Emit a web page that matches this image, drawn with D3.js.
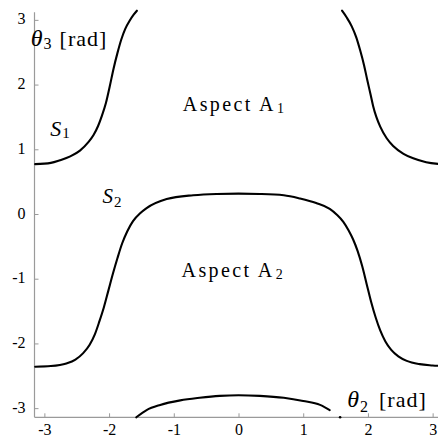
<!DOCTYPE html>
<html>
<head>
<meta charset="utf-8">
<script src="https://cdn.jsdelivr.net/npm/d3@7"></script>
<style>
  html, body { margin: 0; padding: 0; background: #fff; }
  svg { display: block; }
  text { font-family: "Liberation Serif", "Times New Roman", serif; fill: #000; }
</style>
</head>
<body>
<svg id="chart" width="438" height="441"></svg>
<script>
const PI = Math.PI;

// Tick values
const xTicks = [-3, -2, -1, 0, 1, 2, 3];
const yTicks = [-3, -2, -1, 0, 1, 2, 3];

// Singularity curve S1, left branch  [theta2, theta3]
const s1Left = [
  [-PI, 0.77], [-2.9, 0.79], [-2.76, 0.83], [-2.6, 0.89], [-2.45, 0.98],
  [-2.32, 1.11], [-2.24, 1.22], [-2.17, 1.36], [-2.11, 1.52], [-2.05, 1.71],
  [-1.99, 1.97], [-1.93, 2.25], [-1.87, 2.49], [-1.81, 2.70], [-1.75, 2.86],
  [-1.68, 2.99], [-1.62, 3.08], [-1.57, PI]
];
// Singularity curve S1, right branch
const s1Right = [
  [1.60, PI], [1.67, 3.04], [1.75, 2.90], [1.82, 2.73], [1.88, 2.53],
  [1.94, 2.30], [1.99, 2.07], [2.04, 1.85], [2.08, 1.67], [2.13, 1.50],
  [2.19, 1.35], [2.29, 1.17], [2.39, 1.05], [2.55, 0.93], [2.70, 0.86],
  [2.9, 0.80], [PI, 0.77]
];
// Singularity curve S1, wrapped part near theta3 = -pi
const s1Bottom = [
  [-1.58, -PI], [-1.42, -3.03], [-1.21, -2.95], [-0.9, -2.88], [-0.6, -2.84],
  [-0.29, -2.81], [0.0, -2.80], [0.33, -2.81], [0.7, -2.84], [1.0, -2.89],
  [1.26, -2.95], [1.41, -3.03]
];
const s1BottomDot = [[1.57, -PI]];
// Singularity curve S2
const s2 = [
  [-PI, -2.36], [-2.9, -2.35], [-2.66, -2.31], [-2.52, -2.25], [-2.40, -2.15],
  [-2.30, -2.02], [-2.22, -1.86], [-2.15, -1.66], [-2.08, -1.44], [-2.01, -1.18],
  [-1.94, -0.92], [-1.87, -0.68], [-1.80, -0.46], [-1.72, -0.27], [-1.63, -0.11],
  [-1.52, 0.01], [-1.42, 0.09], [-1.11, 0.23], [-0.70, 0.29], [-0.34, 0.31],
  [0.0, 0.315], [0.33, 0.31], [0.70, 0.29], [0.95, 0.24], [1.20, 0.17],
  [1.41, 0.08], [1.52, -0.01], [1.62, -0.12], [1.70, -0.25], [1.77, -0.39],
  [1.84, -0.57], [1.91, -0.80], [1.98, -1.08], [2.05, -1.36], [2.12, -1.60],
  [2.19, -1.80], [2.27, -1.97], [2.36, -2.10], [2.47, -2.20], [2.60, -2.27],
  [2.8, -2.32], [3.0, -2.34], [PI, -2.35]
];

const svg = d3.select("#chart");
const x = d3.scaleLinear().domain([-PI, PI]).range([35.2, 441.8]);
const y = d3.scaleLinear().domain([-PI, PI]).range([417.3, 10.7]);

const axisColor = "#9a9a9a";

// X axis
const gx = svg.append("g").attr("transform", `translate(0,${y(-PI)})`)
  .call(d3.axisBottom(x).tickValues(xTicks).tickFormat(d => String(d))
    .tickSizeInner(-4).tickSizeOuter(0).tickPadding(6));
gx.select(".domain").remove();
gx.append("line").attr("x1", x(-PI) - 0.7).attr("x2", 438).attr("y1", 0).attr("y2", 0)
  .attr("stroke", axisColor).attr("stroke-width", 1.2);
gx.selectAll(".tick line").attr("stroke", axisColor);
gx.selectAll(".tick text").attr("font-size", 16).attr("fill", "#000")
  .attr("font-family", "Liberation Serif, Times New Roman, serif");

// Y axis
const gy = svg.append("g").attr("transform", `translate(${x(-PI) - 0.7},0)`)
  .call(d3.axisLeft(y).tickValues(yTicks).tickFormat(d => String(d))
    .tickSizeInner(-4).tickSizeOuter(0).tickPadding(9));
gy.select(".domain").remove();
gy.append("line").attr("x1", 0).attr("x2", 0).attr("y1", y(PI) + 1.5).attr("y2", y(-PI))
  .attr("stroke", axisColor).attr("stroke-width", 1.2);
gy.selectAll(".tick line").attr("stroke", axisColor);
gy.selectAll(".tick text").attr("font-size", 16).attr("fill", "#000").attr("dy", "0.25em")
  .attr("font-family", "Liberation Serif, Times New Roman, serif");

// Curves
const line = d3.line().x(d => x(d[0])).y(d => y(d[1])).curve(d3.curveMonotoneX);
[s1Left, s1Right, s1Bottom, s2].forEach(c => {
  svg.append("path").datum(c).attr("d", line)
    .attr("fill", "none").attr("stroke", "#000").attr("stroke-width", 2.1)
    .attr("stroke-linecap", "round");
});
svg.selectAll("circle.dot").data(s1BottomDot).join("circle").attr("class", "dot")
  .attr("cx", d => x(d[0])).attr("cy", d => y(d[1])).attr("r", 1.3).attr("fill", "#000");

// Annotations (positions in data coordinates)
function sub(g, px, py, main, subTxt, opts) {
  const t = g.append("text").attr("x", px).attr("y", py);
  t.append("tspan").text(main).attr("font-size", opts.size)
    .attr("font-style", opts.italic ? "italic" : "normal")
    .attr("letter-spacing", opts.ls || 0);
  t.append("tspan").text(subTxt).attr("font-size", opts.subSize).attr("dy", opts.subDy)
    .attr("dx", opts.subDx || 0);
  if (opts.after) {
    t.append("tspan").text(opts.after).attr("font-size", opts.afterSize)
      .attr("dy", -opts.subDy).attr("dx", opts.afterDx || 0).attr("letter-spacing", 1);
  }
  return t;
}

sub(svg, x(-3.21), y(2.6), "θ", "3", {size: 24, italic: true, subSize: 16, subDy: 3, subDx: 1, after: "[rad]", afterSize: 22, afterDx: 8});
sub(svg, x(1.68), y(-2.98), "θ", "2", {size: 24, italic: true, subSize: 16, subDy: 5, subDx: 1, after: "[rad]", afterSize: 22, afterDx: 11});
sub(svg, x(-2.91), y(1.21), "S", "1", {size: 22, italic: true, subSize: 15, subDy: 2, subDx: 1});
sub(svg, x(-2.1), y(0.17), "S", "2", {size: 21, italic: true, subSize: 15, subDy: 4, subDx: 1});
sub(svg, x(-0.86), y(1.59), "Aspect A", "1", {size: 20, italic: false, ls: 2.4, subSize: 14, subDy: 2, subDx: 1});
sub(svg, x(-0.88), y(-0.98), "Aspect A", "2", {size: 20, italic: false, ls: 2.4, subSize: 14, subDy: 2, subDx: 1});
</script>
</body>
</html>
